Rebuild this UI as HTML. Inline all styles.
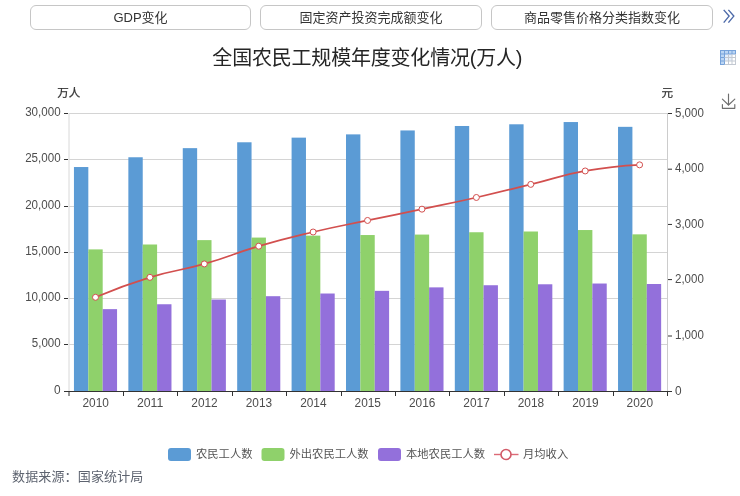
<!DOCTYPE html>
<html><head><meta charset="utf-8"><style>
html,body{margin:0;padding:0;background:#fff;}
body{width:740px;height:496px;position:relative;overflow:hidden;font-family:'Liberation Sans','Noto Sans CJK SC',sans-serif;}
.btn{position:absolute;top:5px;height:25px;box-sizing:border-box;border:1px solid #c6c6c6;border-radius:6px;background:#fff;
 font-size:13px;color:#333;text-align:center;line-height:23px;will-change:transform;}
svg{position:absolute;left:0;top:0;will-change:transform;}
svg text{font-family:'Liberation Sans','Noto Sans CJK SC',sans-serif;fill:#333;}
.ax{font-size:12px;fill:#4d4d4d !important;}
.xl{font-size:12px;}
.unit{font-size:11.5px;stroke:#333;stroke-width:0.25px;}
.lg{font-size:11.3px;fill:#555 !important;}
.src{font-size:13px;letter-spacing:0.15px;fill:#5e6470 !important;}
.title{font-size:20px;letter-spacing:-0.2px;fill:#252525 !important;}
</style></head><body>
<div class="btn" style="left:30px;width:221px;">GDP变化</div>
<div class="btn" style="left:260px;width:222px;">固定资产投资完成额变化</div>
<div class="btn" style="left:491px;width:222px;">商品零售价格分类指数变化</div>
<svg width="740" height="496" viewBox="0 0 740 496">
<line x1="69.0" y1="344.5" x2="667.5" y2="344.5" stroke="#d4d4d4" stroke-width="1"/>
<line x1="69.0" y1="298.5" x2="667.5" y2="298.5" stroke="#d4d4d4" stroke-width="1"/>
<line x1="69.0" y1="252.5" x2="667.5" y2="252.5" stroke="#d4d4d4" stroke-width="1"/>
<line x1="69.0" y1="206.5" x2="667.5" y2="206.5" stroke="#d4d4d4" stroke-width="1"/>
<line x1="69.0" y1="159.5" x2="667.5" y2="159.5" stroke="#d4d4d4" stroke-width="1"/>
<line x1="69.0" y1="113.5" x2="667.5" y2="113.5" stroke="#d4d4d4" stroke-width="1"/>
<line x1="69.0" y1="113.0" x2="69.0" y2="391.0" stroke="#d8d8d8" stroke-width="1"/>
<line x1="667.5" y1="113.0" x2="667.5" y2="391.0" stroke="#ccc" stroke-width="1"/>
<rect x="73.95" y="167.03" width="14.37" height="224.47" fill="#5b9bd5"/>
<rect x="88.32" y="249.40" width="14.37" height="142.10" fill="#8fd16b"/>
<rect x="102.69" y="309.14" width="14.37" height="82.36" fill="#9370db"/>
<rect x="128.36" y="157.26" width="14.37" height="234.24" fill="#5b9bd5"/>
<rect x="142.73" y="244.50" width="14.37" height="147.00" fill="#8fd16b"/>
<rect x="157.10" y="304.25" width="14.37" height="87.25" fill="#9370db"/>
<rect x="182.77" y="148.15" width="14.37" height="243.35" fill="#5b9bd5"/>
<rect x="197.14" y="240.12" width="14.37" height="151.38" fill="#8fd16b"/>
<rect x="211.51" y="299.53" width="14.37" height="91.97" fill="#9370db"/>
<rect x="237.18" y="142.28" width="14.37" height="249.22" fill="#5b9bd5"/>
<rect x="251.55" y="237.58" width="14.37" height="153.92" fill="#8fd16b"/>
<rect x="265.92" y="296.20" width="14.37" height="95.30" fill="#9370db"/>
<rect x="291.59" y="137.64" width="14.37" height="253.86" fill="#5b9bd5"/>
<rect x="305.96" y="235.63" width="14.37" height="155.87" fill="#8fd16b"/>
<rect x="320.33" y="293.51" width="14.37" height="97.99" fill="#9370db"/>
<rect x="346.00" y="134.38" width="14.37" height="257.12" fill="#5b9bd5"/>
<rect x="360.37" y="235.04" width="14.37" height="156.46" fill="#8fd16b"/>
<rect x="374.74" y="290.84" width="14.37" height="100.66" fill="#9370db"/>
<rect x="400.40" y="130.45" width="14.37" height="261.05" fill="#5b9bd5"/>
<rect x="414.77" y="234.58" width="14.37" height="156.92" fill="#8fd16b"/>
<rect x="429.14" y="287.37" width="14.37" height="104.13" fill="#9370db"/>
<rect x="454.81" y="125.99" width="14.37" height="265.51" fill="#5b9bd5"/>
<rect x="469.18" y="232.25" width="14.37" height="159.25" fill="#8fd16b"/>
<rect x="483.55" y="285.24" width="14.37" height="106.26" fill="#9370db"/>
<rect x="509.22" y="124.29" width="14.37" height="267.21" fill="#5b9bd5"/>
<rect x="523.59" y="231.50" width="14.37" height="160.00" fill="#8fd16b"/>
<rect x="537.96" y="284.28" width="14.37" height="107.22" fill="#9370db"/>
<rect x="563.63" y="122.05" width="14.37" height="269.45" fill="#5b9bd5"/>
<rect x="578.00" y="230.03" width="14.37" height="161.47" fill="#8fd16b"/>
<rect x="592.37" y="283.52" width="14.37" height="107.98" fill="#9370db"/>
<rect x="618.04" y="126.84" width="14.37" height="264.66" fill="#5b9bd5"/>
<rect x="632.41" y="234.35" width="14.37" height="157.15" fill="#8fd16b"/>
<rect x="646.78" y="284.00" width="14.37" height="107.50" fill="#9370db"/>
<line x1="64" y1="391.5" x2="672" y2="391.5" stroke="#333" stroke-width="1"/>
<line x1="69" y1="391" x2="69" y2="396" stroke="#333" stroke-width="1"/>
<line x1="123.5" y1="391" x2="123.5" y2="396" stroke="#333" stroke-width="1"/>
<line x1="177.5" y1="391" x2="177.5" y2="396" stroke="#333" stroke-width="1"/>
<line x1="232.5" y1="391" x2="232.5" y2="396" stroke="#333" stroke-width="1"/>
<line x1="286.5" y1="391" x2="286.5" y2="396" stroke="#333" stroke-width="1"/>
<line x1="341.5" y1="391" x2="341.5" y2="396" stroke="#333" stroke-width="1"/>
<line x1="395.5" y1="391" x2="395.5" y2="396" stroke="#333" stroke-width="1"/>
<line x1="449.5" y1="391" x2="449.5" y2="396" stroke="#333" stroke-width="1"/>
<line x1="504.5" y1="391" x2="504.5" y2="396" stroke="#333" stroke-width="1"/>
<line x1="558.5" y1="391" x2="558.5" y2="396" stroke="#333" stroke-width="1"/>
<line x1="613.5" y1="391" x2="613.5" y2="396" stroke="#333" stroke-width="1"/>
<line x1="667.5" y1="391" x2="667.5" y2="396" stroke="#333" stroke-width="1"/>
<line x1="64" y1="391.5" x2="68" y2="391.5" stroke="#333" stroke-width="1"/>
<text x="60.6" y="394.1" text-anchor="end" class="ax" textLength="6.6" lengthAdjust="spacingAndGlyphs">0</text>
<line x1="64" y1="344.5" x2="68" y2="344.5" stroke="#333" stroke-width="1"/>
<text x="60.6" y="347.1" text-anchor="end" class="ax" textLength="28.8" lengthAdjust="spacingAndGlyphs">5,000</text>
<line x1="64" y1="298.5" x2="68" y2="298.5" stroke="#333" stroke-width="1"/>
<text x="60.6" y="301.1" text-anchor="end" class="ax" textLength="35.4" lengthAdjust="spacingAndGlyphs">10,000</text>
<line x1="64" y1="252.5" x2="68" y2="252.5" stroke="#333" stroke-width="1"/>
<text x="60.6" y="255.1" text-anchor="end" class="ax" textLength="35.4" lengthAdjust="spacingAndGlyphs">15,000</text>
<line x1="64" y1="206.5" x2="68" y2="206.5" stroke="#333" stroke-width="1"/>
<text x="60.6" y="209.1" text-anchor="end" class="ax" textLength="35.4" lengthAdjust="spacingAndGlyphs">20,000</text>
<line x1="64" y1="159.5" x2="68" y2="159.5" stroke="#333" stroke-width="1"/>
<text x="60.6" y="162.1" text-anchor="end" class="ax" textLength="35.4" lengthAdjust="spacingAndGlyphs">25,000</text>
<line x1="64" y1="113.5" x2="68" y2="113.5" stroke="#333" stroke-width="1"/>
<text x="60.6" y="116.1" text-anchor="end" class="ax" textLength="35.4" lengthAdjust="spacingAndGlyphs">30,000</text>
<line x1="668" y1="391.5" x2="672" y2="391.5" stroke="#333" stroke-width="1"/>
<text x="675" y="394.7" class="ax" textLength="6.6" lengthAdjust="spacingAndGlyphs">0</text>
<line x1="668" y1="336.0" x2="672" y2="336.0" stroke="#333" stroke-width="1"/>
<text x="675" y="339.2" class="ax" textLength="28.8" lengthAdjust="spacingAndGlyphs">1,000</text>
<line x1="668" y1="279.6" x2="672" y2="279.6" stroke="#333" stroke-width="1"/>
<text x="675" y="282.8" class="ax" textLength="28.8" lengthAdjust="spacingAndGlyphs">2,000</text>
<line x1="668" y1="224.45" x2="672" y2="224.45" stroke="#333" stroke-width="1"/>
<text x="675" y="227.6" class="ax" textLength="28.8" lengthAdjust="spacingAndGlyphs">3,000</text>
<line x1="668" y1="169.2" x2="672" y2="169.2" stroke="#333" stroke-width="1"/>
<text x="675" y="172.4" class="ax" textLength="28.8" lengthAdjust="spacingAndGlyphs">4,000</text>
<line x1="668" y1="113.5" x2="672" y2="113.5" stroke="#333" stroke-width="1"/>
<text x="675" y="116.7" class="ax" textLength="28.8" lengthAdjust="spacingAndGlyphs">5,000</text>
<text x="82.50" y="407" class="ax xl" textLength="26.4" lengthAdjust="spacingAndGlyphs">2010</text>
<text x="136.91" y="407" class="ax xl" textLength="26.4" lengthAdjust="spacingAndGlyphs">2011</text>
<text x="191.32" y="407" class="ax xl" textLength="26.4" lengthAdjust="spacingAndGlyphs">2012</text>
<text x="245.73" y="407" class="ax xl" textLength="26.4" lengthAdjust="spacingAndGlyphs">2013</text>
<text x="300.14" y="407" class="ax xl" textLength="26.4" lengthAdjust="spacingAndGlyphs">2014</text>
<text x="354.55" y="407" class="ax xl" textLength="26.4" lengthAdjust="spacingAndGlyphs">2015</text>
<text x="408.96" y="407" class="ax xl" textLength="26.4" lengthAdjust="spacingAndGlyphs">2016</text>
<text x="463.37" y="407" class="ax xl" textLength="26.4" lengthAdjust="spacingAndGlyphs">2017</text>
<text x="517.78" y="407" class="ax xl" textLength="26.4" lengthAdjust="spacingAndGlyphs">2018</text>
<text x="572.19" y="407" class="ax xl" textLength="26.4" lengthAdjust="spacingAndGlyphs">2019</text>
<text x="626.60" y="407" class="ax xl" textLength="26.4" lengthAdjust="spacingAndGlyphs">2020</text>
<path fill="none" stroke="#d24f4e" stroke-width="1.7" d="M95.50,297.29 C95.50,297.29 122.25,285.81 149.91,277.33 C176.66,269.13 177.40,271.63 204.32,263.93 C231.81,256.06 231.29,254.24 258.73,246.19 C285.70,238.28 285.79,238.48 313.14,232.01 C340.20,225.61 340.33,226.16 367.55,220.45 C394.74,214.74 394.77,214.90 421.96,209.16 C449.18,203.42 449.24,203.67 476.37,197.48 C503.65,191.27 503.59,190.99 530.78,184.36 C558.00,177.73 557.67,175.90 585.19,170.96 C612.08,166.14 639.60,164.85 639.60,164.85"/>
<circle cx="95.50" cy="297.29" r="3" fill="#fff" stroke="#d24f4e" stroke-width="1"/>
<circle cx="149.91" cy="277.33" r="3" fill="#fff" stroke="#d24f4e" stroke-width="1"/>
<circle cx="204.32" cy="263.93" r="3" fill="#fff" stroke="#d24f4e" stroke-width="1"/>
<circle cx="258.73" cy="246.19" r="3" fill="#fff" stroke="#d24f4e" stroke-width="1"/>
<circle cx="313.14" cy="232.01" r="3" fill="#fff" stroke="#d24f4e" stroke-width="1"/>
<circle cx="367.55" cy="220.45" r="3" fill="#fff" stroke="#d24f4e" stroke-width="1"/>
<circle cx="421.96" cy="209.16" r="3" fill="#fff" stroke="#d24f4e" stroke-width="1"/>
<circle cx="476.37" cy="197.48" r="3" fill="#fff" stroke="#d24f4e" stroke-width="1"/>
<circle cx="530.78" cy="184.36" r="3" fill="#fff" stroke="#d24f4e" stroke-width="1"/>
<circle cx="585.19" cy="170.96" r="3" fill="#fff" stroke="#d24f4e" stroke-width="1"/>
<circle cx="639.60" cy="164.85" r="3" fill="#fff" stroke="#d24f4e" stroke-width="1"/>
<text x="57.2" y="97.2" class="unit">万人</text>
<text x="661.6" y="97.2" class="unit">元</text>
<text x="367.3" y="64.6" text-anchor="middle" class="title">全国农民工规模年度变化情况(万人)</text>
<rect x="168" y="448" width="23" height="13" rx="3" fill="#5b9bd5"/>
<text x="196" y="458" class="lg">农民工人数</text>
<rect x="261.5" y="448" width="23" height="13" rx="3" fill="#8fd16b"/>
<text x="289.5" y="458" class="lg">外出农民工人数</text>
<rect x="378" y="448" width="23" height="13" rx="3" fill="#9370db"/>
<text x="406" y="458" class="lg">本地农民工人数</text>
<line x1="494" y1="454.5" x2="518.5" y2="454.5" stroke="#dc6a76" stroke-width="1.4"/>
<circle cx="506" cy="454.5" r="5" fill="#fff" stroke="#d25a68" stroke-width="1.6"/>
<text x="523" y="458" class="lg">月均收入</text>
<text x="12" y="481" class="src">数据来源：国家统计局</text>
<g fill="none" stroke="#4d6aa9" stroke-width="1.4">
<polyline points="723.7,9.9 729.1,16.1 723.7,22.6"/>
<polyline points="728.4,9.9 733.8,16.1 728.4,22.6"/>
</g>
<g>
<rect x="720" y="50" width="16" height="15" fill="#fff"/>
<rect x="720" y="50" width="16" height="4" fill="#bcd6f4"/>
<rect x="720" y="50" width="4.5" height="15" fill="#bcd6f4"/>
<rect x="724.5" y="54" width="7.5" height="7" fill="#e6effb"/>
<g stroke="#76a2da" stroke-width="1">
<line x1="720.5" y1="50" x2="720.5" y2="65"/><line x1="724.5" y1="50" x2="724.5" y2="65"/>
<line x1="728.5" y1="50" x2="728.5" y2="54"/><line x1="732" y1="50" x2="732" y2="54"/><line x1="735.5" y1="50" x2="735.5" y2="54"/>
<line x1="720" y1="50.5" x2="736" y2="50.5"/><line x1="720" y1="54" x2="736" y2="54"/>
<line x1="720" y1="57.5" x2="724.5" y2="57.5"/><line x1="720" y1="61" x2="724.5" y2="61"/><line x1="720" y1="64.5" x2="724.5" y2="64.5"/>
</g>
<g stroke="#c3c9d2" stroke-width="1">
<line x1="728.5" y1="54" x2="728.5" y2="65"/><line x1="732" y1="54" x2="732" y2="65"/><line x1="735.5" y1="54" x2="735.5" y2="65"/>
<line x1="724.5" y1="57.5" x2="736" y2="57.5"/><line x1="724.5" y1="61" x2="736" y2="61"/><line x1="724.5" y1="64.5" x2="736" y2="64.5"/>
</g>
</g>
<g fill="none" stroke="#6e6e6e" stroke-width="1.15" stroke-linejoin="round" stroke-linecap="round">
<line x1="728.5" y1="94" x2="728.5" y2="105"/>
<polyline points="722.4,99.2 728.5,105 734.8,99.2"/>
<polyline points="722.4,104.5 722.4,108.3 734.8,108.3 734.8,104.5"/>
</g>
</svg>
</body></html>
